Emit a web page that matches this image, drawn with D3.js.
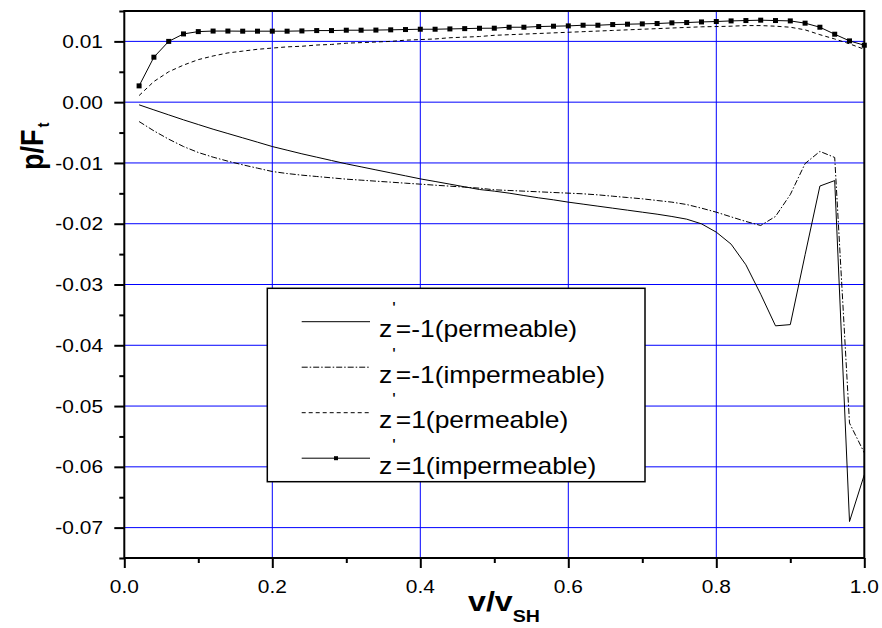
<!DOCTYPE html>
<html>
<head>
<meta charset="utf-8">
<script src="https://cdn.jsdelivr.net/npm/d3@7"></script>
<style>
  html, body { margin: 0; padding: 0; background: #fff; }
  svg { display: block; }
  text { font-family: Arial, "Liberation Sans", sans-serif; fill: #000; }
</style>
</head>
<body>
<svg id="chart" width="882" height="628"></svg>
<script>
// ---------------- data ----------------
const xValues = [0.02,0.04,0.06,0.08,0.10,0.12,0.14,0.16,0.18,0.20,
                 0.22,0.24,0.26,0.28,0.30,0.32,0.34,0.36,0.38,0.40,
                 0.42,0.44,0.46,0.48,0.50,0.52,0.54,0.56,0.58,0.60,
                 0.62,0.64,0.66,0.68,0.70,0.72,0.74,0.76,0.78,0.80,
                 0.82,0.84,0.86,0.88,0.90,0.92,0.94,0.96,0.98,1.00];

// z'=-1 (permeable) — solid
const negPermeable = [-0.00044,-0.00127,-0.00209,-0.00291,-0.00368,-0.00445,-0.00516,-0.00587,-0.00658,-0.00730,
                      -0.00790,-0.00850,-0.00905,-0.00960,-0.01015,-0.01064,-0.01114,-0.01163,-0.01212,-0.01262,
                      -0.01305,-0.01349,-0.01393,-0.01437,-0.01464,-0.01497,-0.01536,-0.01574,-0.01607,-0.01645,
                      -0.01678,-0.01711,-0.01744,-0.01777,-0.01810,-0.01843,-0.01881,-0.01925,-0.02002,-0.02139,
                      -0.02336,-0.02676,-0.03160,-0.03680,-0.03660,-0.02510,-0.01380,-0.01290,-0.06900,-0.06130];

// z'=-1 (impermeable) — dash-dot
const negImpermeable = [-0.00319,-0.00472,-0.00609,-0.00730,-0.00828,-0.00905,-0.00971,-0.01031,-0.01086,-0.01141,
                        -0.01174,-0.01201,-0.01223,-0.01245,-0.01267,-0.01283,-0.01300,-0.01316,-0.01333,-0.01349,
                        -0.01366,-0.01382,-0.01398,-0.01415,-0.01442,-0.01453,-0.01464,-0.01475,-0.01486,-0.01497,
                        -0.01508,-0.01525,-0.01547,-0.01569,-0.01590,-0.01618,-0.01645,-0.01684,-0.01744,-0.01810,
                        -0.01887,-0.01963,-0.02029,-0.01880,-0.01520,-0.01010,-0.00810,-0.00910,-0.05280,-0.05770];

// z'=1 (permeable) — dashed
const posPermeable = [0.00109,0.00340,0.00500,0.00610,0.00700,0.00760,0.00810,0.00840,0.00870,0.00890,
                      0.00910,0.00920,0.00940,0.00950,0.00970,0.00980,0.00990,0.01000,0.01020,0.01030,
                      0.01040,0.01060,0.01070,0.01080,0.01100,0.01110,0.01120,0.01130,0.01140,0.01150,
                      0.01160,0.01170,0.01180,0.01190,0.01200,0.01210,0.01220,0.01230,0.01240,0.01244,
                      0.01250,0.01260,0.01260,0.01250,0.01233,0.01190,0.01110,0.01040,0.00960,0.00870];

// z'=1 (impermeable) — solid with square markers
const posImpermeable = [0.00268,0.00740,0.01000,0.01123,0.01161,0.01170,0.01170,0.01168,0.01168,0.01168,
                        0.01168,0.01172,0.01178,0.01178,0.01184,0.01184,0.01186,0.01190,0.01195,0.01200,
                        0.01200,0.01205,0.01210,0.01216,0.01217,0.01233,0.01233,0.01244,0.01250,0.01255,
                        0.01266,0.01266,0.01277,0.01283,0.01288,0.01294,0.01305,0.01310,0.01320,0.01327,
                        0.01337,0.01343,0.01349,0.01343,0.01337,0.01300,0.01233,0.01118,0.01008,0.00937];

const seriesNames = ["=-1(permeable)", "=-1(impermeable)", "=1(permeable)", "=1(impermeable)"];

const xMajorTicks = [0, 0.2, 0.4, 0.6, 0.8, 1.0];
const xMajorLabels = ["0.0", "0.2", "0.4", "0.6", "0.8", "1.0"];
const xMinorTicks = [0.1, 0.3, 0.5, 0.7, 0.9];
const yMajorTicks = [0.01, 0.00, -0.01, -0.02, -0.03, -0.04, -0.05, -0.06, -0.07];
const yMajorLabels = ["0.01", "0.00", "-0.01", "-0.02", "-0.03", "-0.04", "-0.05", "-0.06", "-0.07"];
const yMinorTicks = [0.015, 0.005, -0.005, -0.015, -0.025, -0.035, -0.045, -0.055, -0.065, -0.075];

// ---------------- layout ----------------
const svg = d3.select("#chart");
const L = 124.3, R = 864.3, T = 11, B = 558;
const x = d3.scaleLinear().domain([0, 1]).range([L, R]);
const y = d3.scaleLinear().domain([-0.075, 0.015]).range([B, T]);
const SX = 1.15; // horizontal glyph stretch seen in the reference

// grid
const grid = svg.append("g");
grid.selectAll("line.gx").data(xMajorTicks.filter(d => d > 0 && d < 1)).join("line")
  .attr("x1", d => x(d)).attr("x2", d => x(d)).attr("y1", T).attr("y2", B)
  .attr("stroke", "#0000ff").attr("stroke-width", 1);
grid.selectAll("line.gy").data(yMajorTicks).join("line")
  .attr("x1", L).attr("x2", R).attr("y1", d => y(d)).attr("y2", d => y(d))
  .attr("stroke", "#0000ff").attr("stroke-width", 1);

// series lines
const pts = vals => xValues.map((xv, i) => [xv, vals[i]]);
const line = d3.line().x(d => x(d[0])).y(d => y(d[1]));
const styles = [
  { vals: negPermeable,   dash: null },
  { vals: negImpermeable, dash: "6,2,1.5,2" },
  { vals: posPermeable,   dash: "4,3" },
  { vals: posImpermeable, dash: null }
];
styles.forEach(s => {
  svg.append("path").attr("d", line(pts(s.vals)))
    .attr("fill", "none").attr("stroke", "#000").attr("stroke-width", 1)
    .attr("stroke-dasharray", s.dash);
});
svg.append("g").selectAll("rect").data(pts(posImpermeable)).join("rect")
  .attr("x", d => x(d[0]) - 2.5).attr("y", d => y(d[1]) - 2.5)
  .attr("width", 5).attr("height", 5).attr("fill", "#000");

// axes (ticks only; labels drawn separately)
const axL = svg.append("g").attr("transform", `translate(${L},0)`)
  .call(d3.axisLeft(y).tickValues(yMajorTicks).tickSize(10).tickFormat(""));
const axLm = svg.append("g").attr("transform", `translate(${L},0)`)
  .call(d3.axisLeft(y).tickValues(yMinorTicks).tickSize(5).tickFormat(""));
const axB = svg.append("g").attr("transform", `translate(0,${B})`)
  .call(d3.axisBottom(x).tickValues(xMajorTicks).tickSize(10).tickFormat(""));
const axBm = svg.append("g").attr("transform", `translate(0,${B})`)
  .call(d3.axisBottom(x).tickValues(xMinorTicks).tickSize(5).tickFormat(""));
[axL, axLm, axB, axBm].forEach(a => {
  a.select(".domain").remove();
  a.selectAll(".tick line").attr("stroke", "#000").attr("stroke-width", 2);
});

// frame
svg.append("rect").attr("x", L).attr("y", T).attr("width", R - L).attr("height", B - T)
  .attr("fill", "none").attr("stroke", "#000").attr("stroke-width", 2);

// tick labels
svg.append("g").selectAll("text").data(yMajorTicks).join("text")
  .attr("transform", d => `translate(103,${y(d)}) scale(1.1,1)`)
  .attr("text-anchor", "end").attr("dy", "0.35em")
  .style("font-size", "19px")
  .text((d, i) => yMajorLabels[i]);
svg.append("g").selectAll("text").data(xMajorTicks).join("text")
  .attr("transform", d => `translate(${x(d)},592.6) scale(1.1,1)`)
  .attr("text-anchor", "middle")
  .style("font-size", "19px")
  .text((d, i) => xMajorLabels[i]);

// axis titles
const xt = svg.append("text").attr("transform", `translate(468,611) scale(${SX},1)`)
  .style("font-weight", "bold").style("font-size", "28px");
xt.append("tspan").text("v/v");
xt.append("tspan").attr("dy", 11).style("font-size", "17px").text("SH");

const yt = svg.append("text").attr("transform", `translate(43,170) scale(${SX},1) rotate(-90)`)
  .style("font-weight", "bold").style("font-size", "27px");
yt.append("tspan").text("p/F");
yt.append("tspan").attr("dy", 5).attr("dx", 2).style("font-size", "15px").text("t");

// legend
const lg = svg.append("g");
lg.append("rect").attr("x", 267.3).attr("y", 288.3).attr("width", 377.7).attr("height", 193.4)
  .attr("fill", "#fff").attr("stroke", "#000").attr("stroke-width", 1.5);
const rowY = i => 321.7 + i * 45.5;
styles.forEach((s, i) => {
  lg.append("line").attr("x1", 301.7).attr("x2", 370).attr("y1", rowY(i)).attr("y2", rowY(i))
    .attr("stroke", "#000").attr("stroke-width", 1).attr("stroke-dasharray", s.dash);
  if (i === 3) {
    lg.append("rect").attr("x", 336 - 2).attr("y", rowY(i) - 2).attr("width", 4).attr("height", 4).attr("fill", "#000");
  }
  const t = lg.append("text").attr("transform", `translate(379,${rowY(i) + 15.6}) scale(${SX},1)`)
    .style("font-size", "23px");
  t.append("tspan").text("z");
  t.append("tspan").attr("dy", -23).style("font-size", "16px").text("'");
  t.append("tspan").attr("dy", 23).text(seriesNames[i]);
});
</script>
</body>
</html>
